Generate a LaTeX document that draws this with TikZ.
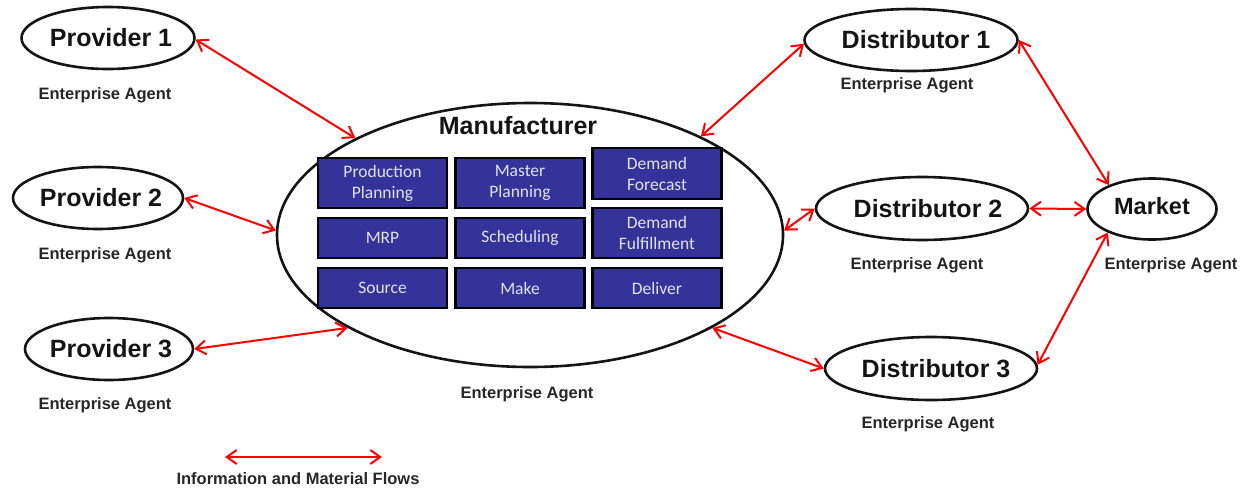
\documentclass[tikz,border=0pt]{standalone}
\usepackage{fontspec}
\setmainfont{Liberation Sans}
\newfontfamily\boxfont{Carlito}
\usetikzlibrary{shapes.geometric,arrows.meta}
\definecolor{boxblue}{RGB}{51,51,153}
\definecolor{boxtext}{RGB}{226,226,240}
\definecolor{flowred}{RGB}{255,0,0}
\definecolor{ink}{RGB}{20,20,20}

\begin{document}
\begin{tikzpicture}[x=1pt,y=-1pt,
  agent/.style={ellipse, draw=ink, line width=2.6pt, inner sep=0pt},
  agentname/.style={font=\fontsize{25}{30}\selectfont\bfseries, text=ink},
  tag/.style={font=\fontsize{16.5}{20}\selectfont\bfseries, text=black!85},
  func/.style={draw=black, line width=2.2pt, fill=boxblue, text=boxtext,
    align=center, inner sep=0pt, minimum width=129pt,
    font=\boxfont\fontsize{17.5}{21}\selectfont},
  flow/.style={flowred, line width=2pt, <->,
    >={Straight Barb[length=10pt,width=14pt]}}
]
\useasboundingbox (0,0) rectangle (1249,493);

% providers
\node[agent, minimum width=173pt, minimum height=62pt,
  label={[agentname,xshift=3pt]center:Provider 1}] (p1) at (108,38) {};
\node[agent, minimum width=170pt, minimum height=62pt,
  label={[agentname,xshift=3pt]center:Provider 2}] (p2) at (98,198) {};
\node[agent, minimum width=168pt, minimum height=62pt,
  label={[agentname,xshift=2pt]center:Provider 3}] (p3) at (109,349) {};
\node[tag] (t1) at (105,95) {Enterprise Agent};
\node[tag] (t2) at (105,255) {Enterprise Agent};
\node[tag] (t3) at (105,405) {Enterprise Agent};

% manufacturer and its functions
\node[agent, fill=white, minimum width=506pt, minimum height=264pt] (man) at (530,235) {};
\node[agentname] (mantitle) at (518,126) {Manufacturer};
\node[tag] (tm) at (527,394) {Enterprise Agent};

\node[func, minimum height=50pt] (pp)  at (382.5,183) {Production\\Planning};
\node[func, minimum height=50pt] (mp)  at (520,183)   {Master\\Planning};
\node[func, minimum height=51pt] (df)  at (657,173.5) {Demand\\Forecast};
\node[func, minimum height=40pt] (mrp) at (382.5,238) {MRP};
\node[func, minimum height=40pt] (sch) at (520,238)   {Scheduling};
\node[func, minimum height=50pt] (dfu) at (657,233)   {Demand\\Fulfillment};
\node[func, minimum height=40pt] (src) at (382.5,288) {Source};
\node[func, minimum height=40pt] (mk)  at (520,288)   {Make};
\node[func, minimum height=40pt] (del) at (657,288)   {Deliver};

% distributors and market
\node[agent, minimum width=213pt, minimum height=62pt,
  label={[agentname,xshift=5pt]center:Distributor 1}] (d1) at (911,40) {};
\node[agent, minimum width=212pt, minimum height=63pt,
  label={[agentname,xshift=6pt]center:Distributor 2}] (d2) at (922,208.5) {};
\node[agent, minimum width=212pt, minimum height=63pt,
  label={[agentname,xshift=5pt]center:Distributor 3}] (d3) at (931,368.5) {};
\node[agent, minimum width=129pt, minimum height=61pt,
  label={[agentname,font=\fontsize{23.5}{28}\selectfont\bfseries,yshift=3pt]center:Market}] (mkt) at (1152,209) {};
\node[tag] (td1) at (907,85) {Enterprise Agent};
\node[tag] (td2) at (917,265) {Enterprise Agent};
\node[tag] (td3) at (928,424) {Enterprise Agent};
\node[tag] (tmk) at (1171,265) {Enterprise Agent};

% flows
\draw[flow] (p1.-1) -- (man.151);
\draw[flow] (p2.east) -- (man.179);
\draw[flow] (p3.east) -- (man.207);
\draw[flow] (d1.182) -- (man.30);
\draw[flow] (d2.west) -- (man.1);
\draw[flow] (d3.west) -- (man.-27);
\draw[flow] (d1.east) -- (mkt.151);
\draw[flow] (d2.east) -- (mkt.west);
\draw[flow] (d3.2) -- (mkt.208);

% legend
\coordinate (lg1) at (225,457);
\coordinate (lg2) at (382,457);
\draw[flow] (lg1) -- (lg2);
\node[tag] (legend) at (298,479) {Information and Material Flows};
\end{tikzpicture}
\end{document}
